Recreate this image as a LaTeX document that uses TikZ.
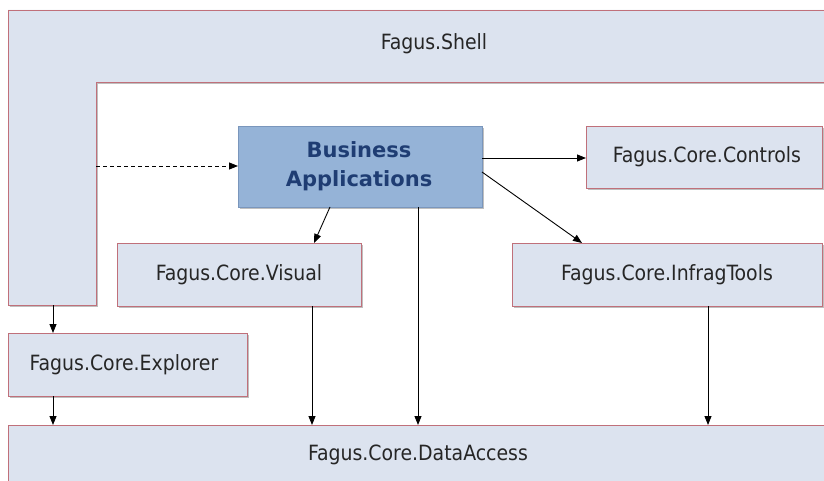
\documentclass[tikz,border=0pt]{standalone}
\usepackage{fontspec}
\setmainfont{DejaVu Sans Condensed}
\newfontfamily\bafont{DejaVu Sans}
\usetikzlibrary{shadows,arrows.meta}
\definecolor{boxfill}{HTML}{DCE3EF}
\definecolor{boxedge}{HTML}{C0707A}
\definecolor{bafill}{HTML}{95B3D7}
\definecolor{baedge}{HTML}{7A96BC}
\definecolor{batext}{HTML}{1F3D73}
\tikzset{
  x=1pt,y=-1pt,
  pkg/.style={draw=boxedge, line width=0.9pt, fill=boxfill, drop shadow={shadow xshift=1.8pt, shadow yshift=-1.8pt, opacity=0.5}},
  lbl/.style={font=\fontsize{21}{24}\selectfont, text=black!85},
  dep/.style={-{Triangle[length=9pt,width=7pt]}, line width=0.9pt, black},
}
\begin{document}
\begin{tikzpicture}
\useasboundingbox (0,0) rectangle (824,481);
\clip (0,0) rectangle (824,481);
\fill[white] (0,0) rectangle (824,481);
% shell
\draw[pkg] (8,10) -- (840,10) -- (840,82) -- (96,82) -- (96,305) -- (8,305) -- cycle;
\node[lbl] (shell) at (434,44) {Fagus.Shell};
\coordinate (shellin) at (96,166);
\coordinate (shellleg) at (53,305);
% boxes
\path[pkg] (586,126) rectangle (822,188);
\node[lbl] (controls) at (707,157) {Fagus.Core.Controls};
\path[pkg] (117,243) rectangle (361,306);
\node[lbl] (visual) at (239,274.5) {Fagus.Core.Visual};
\path[pkg] (512,243) rectangle (822,306);
\node[lbl] (infrag) at (667,274.5) {Fagus.Core.InfragTools};
\path[pkg] (8,333) rectangle (247,396);
\node[lbl] (explorer) at (124,364.5) {Fagus.Core.Explorer};
\path[pkg] (8,425) rectangle (840,500);
\node[lbl] (data) at (418,455) {Fagus.Core.DataAccess};
\path[draw=baedge, line width=0.9pt, fill=bafill, drop shadow={shadow xshift=1.8pt, shadow yshift=-1.8pt, opacity=0.5}] (238,126) rectangle (482,207);
\node[font=\bafont\fontsize{21}{29}\selectfont\bfseries, text=batext, align=center] (ba) at (359,166.5) {Business\\Applications};
% anchors on box edges
\coordinate (baL) at (238,166);
\coordinate (baR1) at (482,158);
\coordinate (baR2) at (482,172);
\coordinate (baB1) at (330,207);
\coordinate (baB2) at (418,207);
\coordinate (ctlL) at (586,158);
\coordinate (infT) at (582,243);
\coordinate (visT) at (314,243);
\coordinate (visB) at (312,306);
\coordinate (infB) at (708,306);
\coordinate (expT) at (53,333);
\coordinate (expB) at (53,396);
\coordinate (daV) at (312,425);
\coordinate (daB) at (418,425);
\coordinate (daI) at (708,425);
\coordinate (daE) at (53,425);
% connectors
\draw[dep, dashed, dash pattern=on 4pt off 3pt] (shellin) -- (baL);
\draw[dep] (baR1) -- (ctlL);
\draw[dep] (baR2) -- (infT);
\draw[dep] (baB1) -- (visT);
\draw[dep] (baB2) -- (daB);
\draw[dep] (visB) -- (daV);
\draw[dep] (infB) -- (daI);
\draw[dep] (shellleg) -- (expT);
\draw[dep] (expB) -- (daE);
\end{tikzpicture}
\end{document}
